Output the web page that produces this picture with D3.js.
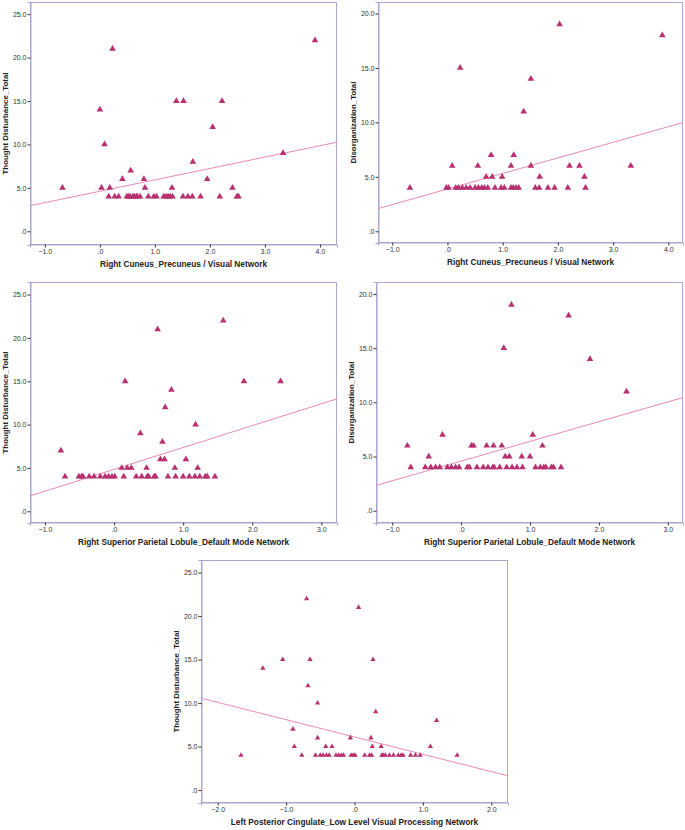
<!DOCTYPE html>
<html>
<head>
<meta charset="utf-8">
<script src="https://cdnjs.cloudflare.com/ajax/libs/d3/7.8.5/d3.min.js"></script>
<style>
  html, body { margin: 0; padding: 0; background: #ffffff; }
  svg { display: block; }
</style>
</head>
<body>
<svg id="chart" width="685" height="830"></svg>
<script>
// ---------- DATA ----------
const p1X = [-0.68, 0.00, 0.23, 0.085, 0.03, 0.18, 0.41, 0.56, 0.80, 0.82, 1.39, 1.52, 1.69, 1.31, 1.95, 2.05, 2.22, 2.41, 3.33, 3.91,
  0.16, 0.27, 0.34, 0.49, 0.52, 0.55, 0.60, 0.62, 0.66, 0.68, 0.73, 0.88, 0.98, 1.03, 1.16, 1.20, 1.24, 1.28, 1.32, 1.51, 1.60, 1.68, 1.83, 2.18, 2.49, 2.52];
const p1Y = [5, 14, 21, 10, 5, 5, 6, 7, 6, 5, 15, 15, 8, 5, 6, 12, 15, 5, 9, 22,
  4, 4, 4, 4, 4, 4, 4, 4, 4, 4, 4, 4, 4, 4, 4, 4, 4, 4, 4, 4, 4, 4, 4, 4, 4, 4];

const p2X = [-0.68, 0.085, 0.23, 0.55, 0.70, 0.79, 0.81, 0.99, 1.15, 1.20, 1.38, 1.51, 1.51, 1.67, 2.03, 2.21, 2.39, 2.48, 3.32, 3.89,
  -0.02, 0.02, 0.15, 0.20, 0.27, 0.34, 0.41, 0.50, 0.56, 0.62, 0.67, 0.73, 0.86, 0.97, 1.03, 1.15, 1.19, 1.24, 1.29, 1.59, 1.66, 1.82, 1.94, 2.18, 2.50];
const p2Y = [4, 6, 15, 6, 5, 7, 5, 5, 6, 7, 11, 14, 6, 5, 19, 6, 6, 5, 6, 18,
  4, 4, 4, 4, 4, 4, 4, 4, 4, 4, 4, 4, 4, 4, 4, 4, 4, 4, 4, 4, 4, 4, 4, 4, 4];

const p3X = [-0.77, -0.71, 0.16, 0.63, 1.58, 1.88, 2.41, 0.83, 0.74, 0.38, 0.70, 1.18, 0.67, 0.73, 1.04, 0.11, 0.19, 0.25, 0.47, 0.88, 1.21,
  -0.51, -0.47, -0.45, -0.36, -0.29, -0.20, -0.13, -0.08, -0.03, 0.01, 0.14, 0.32, 0.40, 0.48, 0.50, 0.58, 0.60, 0.78, 0.89, 1.00, 1.09, 1.17, 1.24, 1.32, 1.35, 1.46];
const p3Y = [7, 4, 15, 21, 22, 15, 15, 14, 12, 9, 8, 10, 6, 6, 6, 5, 5, 5, 5, 5, 5,
  4, 4, 4, 4, 4, 4, 4, 4, 4, 4, 4, 4, 4, 4, 4, 4, 4, 4, 4, 4, 4, 4, 4, 4, 4, 4];

const p4X = [-0.78, -0.73, -0.47, -0.27, 0.15, 0.18, 0.37, 0.47, 0.59, 0.62, 0.64, 0.70, 0.73, 0.88, 1.00, 1.04, 1.18, 1.56, 1.87, 2.40,
  -0.52, -0.44, -0.37, -0.31, -0.20, -0.14, -0.08, -0.03, 0.09, 0.12, 0.23, 0.32, 0.39, 0.46, 0.48, 0.56, 0.66, 0.74, 0.81, 0.89, 1.08, 1.15, 1.20, 1.23, 1.31, 1.34, 1.45];
const p4Y = [6, 4, 5, 7, 6, 6, 6, 6, 6, 15, 5, 5, 19, 5, 5, 7, 6, 18, 14, 11,
  4, 4, 4, 4, 4, 4, 4, 4, 4, 4, 4, 4, 4, 4, 4, 4, 4, 4, 4, 4, 4, 4, 4, 4, 4, 4, 4];

const p5X = [-1.66, -1.34, -1.05, -0.90, -0.88, -0.77, -0.70, -0.68, -0.65, -0.54, -0.54, -0.42, -0.33, -0.06, 0.06, 0.24, 0.26, 0.27, 0.31, 0.39, 1.11, 1.20, 1.50,
  -0.57, -0.50, -0.46, -0.41, -0.37, -0.27, -0.23, -0.19, -0.16, -0.05, -0.02, 0.01, 0.15, 0.22, 0.25, 0.40, 0.42, 0.45, 0.51, 0.57, 0.64, 0.68, 0.71, 0.82, 0.89, 0.96];
const p5Y = [4, 14, 15, 7, 5, 4, 22, 12, 15, 10, 6, 5, 5, 6, 21, 6, 5, 15, 9, 5, 5, 8, 4,
  4, 4, 4, 4, 4, 4, 4, 4, 4, 4, 4, 4, 4, 4, 4, 4, 4, 4, 4, 4, 4, 4, 4, 4, 4, 4];

// fit lines: [intercept, slope]
const fitLines = [[4.61, 1.31], [3.88, 1.43], [4.84, 2.52], [4.58, 1.82], [6.10, -1.99]];

const xTitles = ["Right Cuneus_Precuneus / Visual Network", "Right Cuneus_Precuneus / Visual Network",
  "Right Superior Parietal Lobule_Default Mode Network", "Right Superior Parietal Lobule_Default Mode Network",
  "Left Posterior Cingulate_Low Level Visual Processing Network"];
const yTitles = ["Thought Disturbance_Total", "Disorganization_Total", "Thought Disturbance_Total", "Disorganization_Total", "Thought Disturbance_Total"];

const xTicksA = [-1, 0, 1, 2, 3, 4];
const xTicksB = [-1, 0, 1, 2, 3];
const xTicksC = [-2, -1, 0, 1, 2];
const yTicksTD = [0, 5, 10, 15, 20, 25];
const yTicksDO = [0, 5, 10, 15, 20];

// ---------- LAYOUT ----------
const panels = [
  { xs: p1X, ys: p1Y, left: 30, right: 337, top: 2, bottom: 245, xd: [-1.27, 4.31], yd: [-1.58, 26.4], xt: xTicksA, yt: yTicksTD, ms: 19 },
  { xs: p2X, ys: p2Y, left: 378, right: 683, top: 2, bottom: 243, xd: [-1.258, 4.265], yd: [-1.075, 21.05], xt: xTicksA, yt: yTicksDO, ms: 19 },
  { xs: p3X, ys: p3Y, left: 30, right: 337, top: 282, bottom: 523, xd: [-1.217, 3.227], yd: [-1.35, 26.45], xt: xTicksB, yt: yTicksTD, ms: 19 },
  { xs: p4X, ys: p4Y, left: 376, right: 683, top: 282, bottom: 523, xd: [-1.235, 3.22], yd: [-1.13, 21.1], xt: xTicksB, yt: yTicksDO, ms: 19 },
  { xs: p5X, ys: p5Y, left: 201, right: 508, top: 560, bottom: 803, xd: [-2.244, 2.244], yd: [-1.49, 26.45], xt: xTicksC, yt: yTicksTD, ms: 12 }
];

const fmt = d => d === 0 ? ".0" : d3.format(".1f")(d);
const svg = d3.select("#chart");
const frameColor = "#a9a6d4";
const markColor = "#b8306f";
const lineColor = "#e88ab9";
const fontFam = "'Liberation Sans', Arial, sans-serif";

panels.forEach((p, i) => {
  const x = d3.scaleLinear().domain(p.xd).range([p.left, p.right]);
  const y = d3.scaleLinear().domain(p.yd).range([p.bottom, p.top]);
  const g = svg.append("g");

  // frame
  g.append("rect")
    .attr("x", p.left + 0.5).attr("y", p.top + 0.5)
    .attr("width", p.right - p.left - 1).attr("height", p.bottom - p.top - 1)
    .attr("fill", "#ffffff").attr("stroke", frameColor).attr("stroke-width", 1);

  // axes
  const xAxis = d3.axisBottom(x).tickValues(p.xt).tickFormat(fmt).tickSize(3).tickPadding(2);
  const yAxis = d3.axisLeft(y).tickValues(p.yt).tickFormat(fmt).tickSize(3).tickPadding(1);
  const gx = g.append("g").attr("transform", `translate(0,${p.bottom - 0.5})`).call(xAxis);
  const gy = g.append("g").attr("transform", `translate(${p.left + 0.5},0)`).call(yAxis);
  [gx, gy].forEach(a => {
    a.select(".domain").attr("stroke", frameColor);
    a.selectAll(".tick line").attr("stroke", "#333");
    a.selectAll(".tick text").attr("fill", "#333")
      .style("font-family", fontFam).style("font-size", "7px");
  });

  // fit line
  const [b0, b1] = fitLines[i];
  g.append("line")
    .attr("x1", x(p.xd[0])).attr("y1", y(b0 + b1 * p.xd[0]))
    .attr("x2", x(p.xd[1])).attr("y2", y(b0 + b1 * p.xd[1]))
    .attr("stroke", lineColor).attr("stroke-width", 1);

  // points
  const sym = d3.symbol().type(d3.symbolTriangle).size(p.ms);
  g.selectAll("path.pt").data(p.xs.map((v, k) => [v, p.ys[k]])).join("path")
    .attr("class", "pt")
    .attr("d", sym)
    .attr("transform", d => `translate(${x(d[0])},${y(d[1])})`)
    .attr("fill", markColor);

  // titles
  g.append("text")
    .attr("x", (p.left + p.right) / 2).attr("y", p.bottom + 22)
    .attr("text-anchor", "middle")
    .style("font-family", fontFam).style("font-size", "8.3px").style("font-weight", "bold")
    .attr("fill", "#222").text(xTitles[i]);
  g.append("text")
    .attr("transform", `translate(${p.left - 22},${(p.top + p.bottom) / 2}) rotate(-90)`)
    .attr("text-anchor", "middle")
    .style("font-family", fontFam).style("font-size", "7.9px").style("font-weight", "bold")
    .attr("fill", "#222").text(yTitles[i]);
});
</script>
</body>
</html>
